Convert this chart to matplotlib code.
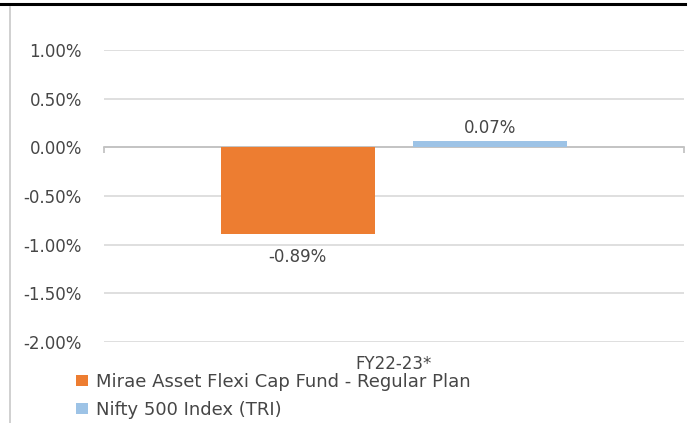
import matplotlib
matplotlib.use("Agg")
import matplotlib.pyplot as plt
from matplotlib.lines import Line2D
from matplotlib.patches import Patch
from matplotlib.ticker import FuncFormatter

# data
category = "FY22-23*"
series_names = ["Mirae Asset Flexi Cap Fund - Regular Plan", "Nifty 500 Index (TRI)"]
series_values = [-0.89, 0.07]
series_colors = ["#ED7D31", "#9DC3E6"]
y_ticks = [1.0, 0.5, 0.0, -0.5, -1.0, -1.5, -2.0]

W, H = 694, 423
fig = plt.figure(figsize=(W / 100, H / 100), dpi=100)
plt.rcParams["font.family"] = ["DejaVu Sans"]
text_color = "#464646"
label_size = 12

# plot area in pixels: x 104..684, y 50 (1.00%) .. 342 (-2.00%)
ax = fig.add_axes([104 / W, (H - 342) / H, 580 / W, 292 / H])
ax.set_xlim(-0.5, 0.5)
ax.set_ylim(-2.0, 1.0)

offsets = [-0.166, 0.166]
width = 0.265
for name, val, col, off in zip(series_names, series_values, series_colors, offsets):
    ax.bar(off, val, width=width, color=col, zorder=3, label=name)
    va = "bottom" if val >= 0 else "top"
    pad = 0.04 if val >= 0 else -0.14
    ax.text(off, val + pad, f"{val:.2f}%", ha="center", va=va,
            fontsize=label_size, color=text_color)

ax.set_yticks(y_ticks)
ax.yaxis.set_major_formatter(FuncFormatter(lambda v, _: f"{v:.2f}%"))
ax.tick_params(axis="y", length=0, pad=16, labelsize=label_size, labelcolor=text_color)
ax.grid(axis="y", color="#d9d9d9", linewidth=1.2, zorder=0)

for s in ["top", "right", "left"]:
    ax.spines[s].set_visible(False)
ax.spines["bottom"].set_position(("data", 0))
ax.spines["bottom"].set_color("#bfbfbf")
ax.spines["bottom"].set_linewidth(1.2)
ax.set_xticks([-0.5, 0.5])
ax.set_xticklabels([])
ax.tick_params(axis="x", direction="out", length=4, color="#bfbfbf", width=1.2)

ax.text(0.0, -2.13, category, ha="center", va="top", fontsize=label_size,
        color=text_color)

handles = [Patch(facecolor=c, edgecolor="none") for c in series_colors]
fig.legend(handles, series_names, loc="upper left",
           bbox_to_anchor=(76 / W, (H - 373) / H), frameon=False,
           fontsize=13, labelcolor=text_color, handlelength=0.65,
           handleheight=0.55, handletextpad=0.45, labelspacing=0.55,
           borderaxespad=0, borderpad=0)

# frame lines of the cropped screenshot
fig.add_artist(Line2D([0, 685 / W], [1 - 4 / H, 1 - 4 / H], color="black",
                      linewidth=2.2, transform=fig.transFigure))
fig.add_artist(Line2D([10 / W, 10 / W], [0, 1 - 7 / H], color="#c8c8c8",
                      linewidth=1.2, transform=fig.transFigure))

fig.savefig("out.png", dpi=100)
